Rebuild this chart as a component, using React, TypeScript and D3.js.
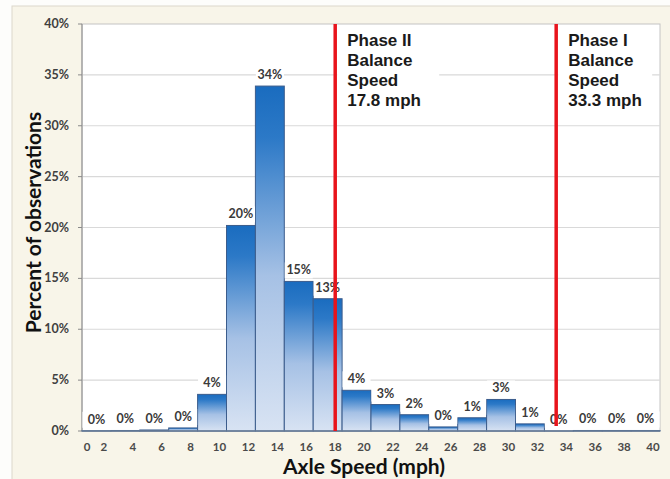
import React from "react";
import * as d3 from "d3";

// bins are 2 mph wide, labelled by their upper edge
const binUpper = [2, 4, 6, 8, 10, 12, 14, 16, 18, 20, 22, 24, 26, 28, 30, 32, 34, 36, 38, 40];
const sharePct = [0.02, 0.05, 0.1, 0.3, 3.6, 20.2, 33.9, 14.7, 13.0, 4.0, 2.6, 1.6, 0.4, 1.3, 3.1, 0.7, 0, 0.05, 0.05, 0.05];
const xTickValues = [0, 2, 4, 6, 8, 10, 12, 14, 16, 18, 20, 22, 24, 26, 28, 30, 32, 34, 36, 38, 40];
const yTickValues = [0, 5, 10, 15, 20, 25, 30, 35, 40];
const markerSpeeds = [17.8, 33.3];
const markerLines = [
  ["Phase II", "Balance", "Speed", "17.8 mph"],
  ["Phase I", "Balance", "Speed", "33.3 mph"],
];

const W = 670;
const H = 479;
const margin = { top: 24, right: 10, bottom: 48, left: 82 };

export default function App() {
  const x = d3.scaleLinear().domain([0, 40]).range([margin.left, W - margin.right]);
  const y = d3.scaleLinear().domain([0, 40]).range([H - margin.bottom, margin.top]);
  const binW = x(2) - x(0);
  const readOffset = 7; // labels sit a bit left of the bin's right edge
  const fmt = (v: number) => `${Math.round(v)}%`;
  const labelFont = "Lato, 'Open Sans', sans-serif";

  return (
    <div style={{ position: "absolute", left: 0, top: 0 }}>
      <svg width={W} height={H} style={{ display: "block" }}>
        <defs>
          <linearGradient id="barGrad" x1="0" y1="0" x2="0" y2="1">
            <stop offset="0" stopColor="#1a6cbf" />
            <stop offset="0.15" stopColor="#2c79c7" />
            <stop offset="0.55" stopColor="#a6c1e5" />
            <stop offset="1" stopColor="#d8e3f3" />
          </linearGradient>
        </defs>
        <rect x={0} y={0} width={W} height={H} fill="#fdfdfb" />
        <rect x={12} y={6} width={W} height={H} fill="#f8f5e9" stroke="#dcd8cc" />
        <rect
          x={x(0)}
          y={y(40)}
          width={x(40) - x(0)}
          height={y(0) - y(40)}
          fill="#ffffff"
          stroke="#c4c4c4"
        />

        {/* gridlines */}
        {yTickValues.slice(1, -1).map((v) => (
          <line key={v} x1={x(0)} x2={x(40)} y1={y(v)} y2={y(v)} stroke="#d9d9d9" strokeWidth={1.2} />
        ))}

        {/* y axis */}
        <line x1={x(0)} x2={x(0)} y1={y(0)} y2={y(40)} stroke="#8a8a8a" />
        {yTickValues.map((v) => (
          <g key={v}>
            <line x1={x(0) - 4} x2={x(0)} y1={y(v)} y2={y(v)} stroke="#8a8a8a" />
            <text
              x={69}
              y={y(v) + 4}
              textAnchor="end"
              fontFamily={labelFont}
              fontWeight="bold"
              fontSize={12.5}
              fill="#404040"
            >
              {v}%
            </text>
          </g>
        ))}

        {/* bars */}
        {sharePct.map((v, i) => (
          <rect
            key={i}
            x={x(binUpper[i] - 2)}
            y={y(v)}
            width={binW}
            height={Math.max(0.01, y(0) - y(v))}
            fill="url(#barGrad)"
            stroke="#3b5c8c"
            strokeWidth={1}
          />
        ))}
        <line x1={x(0)} x2={x(40)} y1={y(0)} y2={y(0)} stroke="#6d7f99" strokeWidth={1.5} />

        {/* data labels */}
        {sharePct.map((v, i) => {
          const cx = x(binUpper[i] - 1);
          const ty = y(v) - 7;
          return (
            <g key={i}>
              <rect x={cx - 14} y={ty - 12} width={28} height={16} fill="#ffffff" />
              <text
                x={cx}
                y={ty}
                textAnchor="middle"
                fontFamily={labelFont}
                fontWeight="bold"
                fontSize={12.5}
                fill="#3a3a3a"
              >
                {fmt(v)}
              </text>
            </g>
          );
        })}

        {/* x tick labels */}
        {xTickValues.map((v) => (
          <text
            key={v}
            x={v === 0 ? x(0) + 5 : x(v) - readOffset}
            y={451}
            textAnchor="middle"
            fontFamily={labelFont}
            fontWeight="bold"
            fontSize={11.5}
            fill="#4a4a4a"
          >
            {v}
          </text>
        ))}

        {/* balance speed markers */}
        {markerSpeeds.map((s, k) => {
          const lx = x(s) - readOffset + (k === 0 ? 3 : 0);
          return (
            <g key={s}>
              <rect x={lx + 2} y={28} width={k === 0 ? 102 : 94} height={86} fill="#ffffff" />
              <line x1={lx} x2={lx} y1={y(40)} y2={k === 0 ? y(0) : y(0) - 5} stroke="#e8141c" strokeWidth={3.5} />
              {markerLines[k].map((t, j) => (
                <text
                  key={j}
                  x={lx + 12}
                  y={46 + j * 20}
                  fontFamily="'Liberation Sans', Arial, sans-serif"
                  fontWeight="bold"
                  fontSize={17}
                  fill="#1a1a1a"
                >
                  {t}
                </text>
              ))}
            </g>
          );
        })}

        {/* titles */}
        <text
          transform={`translate(41,${(y(0) + y(40)) / 2 - 5}) rotate(-90)`}
          textAnchor="middle"
          fontFamily={labelFont}
          fontWeight="bold"
          fontSize={21}
          fill="#111"
        >
          Percent of observations
        </text>
        <text
          x={364}
          y={474}
          textAnchor="middle"
          fontFamily={labelFont}
          fontWeight="bold"
          fontSize={21}
          fill="#111"
        >
          Axle Speed (mph)
        </text>
      </svg>
    </div>
  );
}
